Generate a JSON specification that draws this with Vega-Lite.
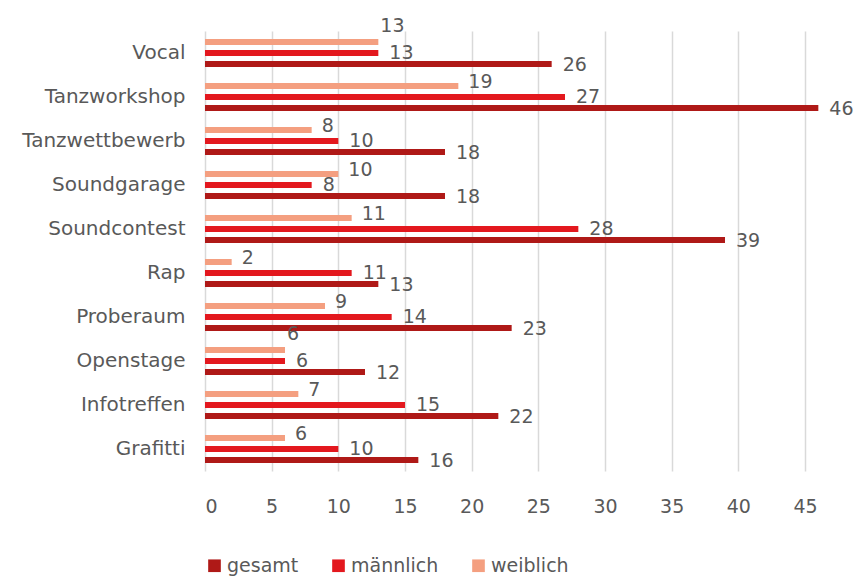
{
  "$schema": "https://vega.github.io/schema/vega-lite/v6.json",
  "width": 640,
  "height": 440,
  "autosize": {"type": "none"},
  "padding": {"left": 205, "top": 31, "right": 11, "bottom": 107},
  "background": "white",
  "config": {
    "view": {"stroke": null},
    "font": "DejaVu Sans",
    "axis": {"labelFont": "DejaVu Sans", "labelColor": "#595959"},
    "legend": {"labelFont": "DejaVu Sans", "labelColor": "#595959"}
  },
  "data": {
    "values": [
      {"kategorie": "Vocal", "gruppe": "weiblich", "wert": 13},
      {"kategorie": "Vocal", "gruppe": "männlich", "wert": 13},
      {"kategorie": "Vocal", "gruppe": "gesamt", "wert": 26},
      {"kategorie": "Tanzworkshop", "gruppe": "weiblich", "wert": 19},
      {"kategorie": "Tanzworkshop", "gruppe": "männlich", "wert": 27},
      {"kategorie": "Tanzworkshop", "gruppe": "gesamt", "wert": 46},
      {"kategorie": "Tanzwettbewerb", "gruppe": "weiblich", "wert": 8},
      {"kategorie": "Tanzwettbewerb", "gruppe": "männlich", "wert": 10},
      {"kategorie": "Tanzwettbewerb", "gruppe": "gesamt", "wert": 18},
      {"kategorie": "Soundgarage", "gruppe": "weiblich", "wert": 10},
      {"kategorie": "Soundgarage", "gruppe": "männlich", "wert": 8},
      {"kategorie": "Soundgarage", "gruppe": "gesamt", "wert": 18},
      {"kategorie": "Soundcontest", "gruppe": "weiblich", "wert": 11},
      {"kategorie": "Soundcontest", "gruppe": "männlich", "wert": 28},
      {"kategorie": "Soundcontest", "gruppe": "gesamt", "wert": 39},
      {"kategorie": "Rap", "gruppe": "weiblich", "wert": 2},
      {"kategorie": "Rap", "gruppe": "männlich", "wert": 11},
      {"kategorie": "Rap", "gruppe": "gesamt", "wert": 13},
      {"kategorie": "Proberaum", "gruppe": "weiblich", "wert": 9},
      {"kategorie": "Proberaum", "gruppe": "männlich", "wert": 14},
      {"kategorie": "Proberaum", "gruppe": "gesamt", "wert": 23},
      {"kategorie": "Openstage", "gruppe": "weiblich", "wert": 6},
      {"kategorie": "Openstage", "gruppe": "männlich", "wert": 6},
      {"kategorie": "Openstage", "gruppe": "gesamt", "wert": 12},
      {"kategorie": "Infotreffen", "gruppe": "weiblich", "wert": 7},
      {"kategorie": "Infotreffen", "gruppe": "männlich", "wert": 15},
      {"kategorie": "Infotreffen", "gruppe": "gesamt", "wert": 22},
      {"kategorie": "Grafitti", "gruppe": "weiblich", "wert": 6},
      {"kategorie": "Grafitti", "gruppe": "männlich", "wert": 10},
      {"kategorie": "Grafitti", "gruppe": "gesamt", "wert": 16}
    ]
  },
  "encoding": {
    "y": {
      "field": "kategorie",
      "type": "nominal",
      "sort": ["Vocal", "Tanzworkshop", "Tanzwettbewerb", "Soundgarage", "Soundcontest", "Rap", "Proberaum", "Openstage", "Infotreffen", "Grafitti"],
      "scale": {"paddingInner": 0.25, "paddingOuter": 0.125},
      "axis": {"title": null, "domain": false, "ticks": false, "labelPadding": 20, "labelFontSize": 20, "grid": false}
    },
    "yOffset": {
      "field": "gruppe",
      "type": "nominal",
      "sort": ["weiblich", "männlich", "gesamt"]
    },
    "x": {
      "field": "wert",
      "type": "quantitative",
      "scale": {"domain": [0, 48], "nice": false},
      "axis": {
        "title": null,
        "values": [0, 5, 10, 15, 20, 25, 30, 35, 40, 45],
        "domain": false,
        "ticks": false,
        "labelPadding": 26,
        "labelFontSize": 19,
        "grid": true,
        "gridColor": "#d9d9d9",
        "gridWidth": 1.5
      }
    }
  },
  "layer": [
    {
      "mark": {"type": "bar", "size": 6},
      "encoding": {
        "color": {
          "field": "gruppe",
          "type": "nominal",
          "scale": {"domain": ["gesamt", "männlich", "weiblich"], "range": ["#AF1917", "#E3181E", "#F49F80"]},
          "legend": {
            "title": null,
            "orient": "none",
            "direction": "horizontal",
            "legendX": 0,
            "legendY": 525,
            "symbolType": "square",
            "symbolSize": 160,
            "symbolStrokeWidth": 0,
            "labelFontSize": 19,
            "labelOffset": 3,
            "columnPadding": 30
          }
        }
      }
    },
    {
      "transform": [{"filter": "datum.gruppe == 'gesamt'"}],
      "mark": {"type": "text", "align": "left", "baseline": "middle", "dx": 11, "dy": 1, "fontSize": 19, "color": "#595959"},
      "encoding": {"text": {"field": "wert", "type": "quantitative"}}
    },
    {
      "transform": [{"filter": "datum.gruppe == 'männlich'"}],
      "mark": {"type": "text", "align": "left", "baseline": "middle", "dx": 11, "dy": 0, "fontSize": 19, "color": "#595959"},
      "encoding": {"text": {"field": "wert", "type": "quantitative"}}
    },
    {
      "transform": [
        {"filter": "datum.gruppe != 'gesamt'"},
        {"joinaggregate": [{"op": "distinct", "field": "wert", "as": "nd"}], "groupby": ["kategorie"]},
        {"filter": "datum.gruppe == 'weiblich' && datum.nd > 1"}
      ],
      "mark": {"type": "text", "align": "left", "baseline": "middle", "dx": 10, "dy": -4, "fontSize": 19, "color": "#595959"},
      "encoding": {"text": {"field": "wert", "type": "quantitative"}}
    },
    {
      "transform": [
        {"filter": "datum.gruppe != 'gesamt'"},
        {"joinaggregate": [{"op": "distinct", "field": "wert", "as": "nd"}], "groupby": ["kategorie"]},
        {"filter": "datum.gruppe == 'weiblich' && datum.nd == 1"}
      ],
      "mark": {"type": "text", "align": "left", "baseline": "middle", "dx": 2, "dy": -16, "fontSize": 19, "color": "#595959"},
      "encoding": {"text": {"field": "wert", "type": "quantitative"}}
    }
  ]
}
